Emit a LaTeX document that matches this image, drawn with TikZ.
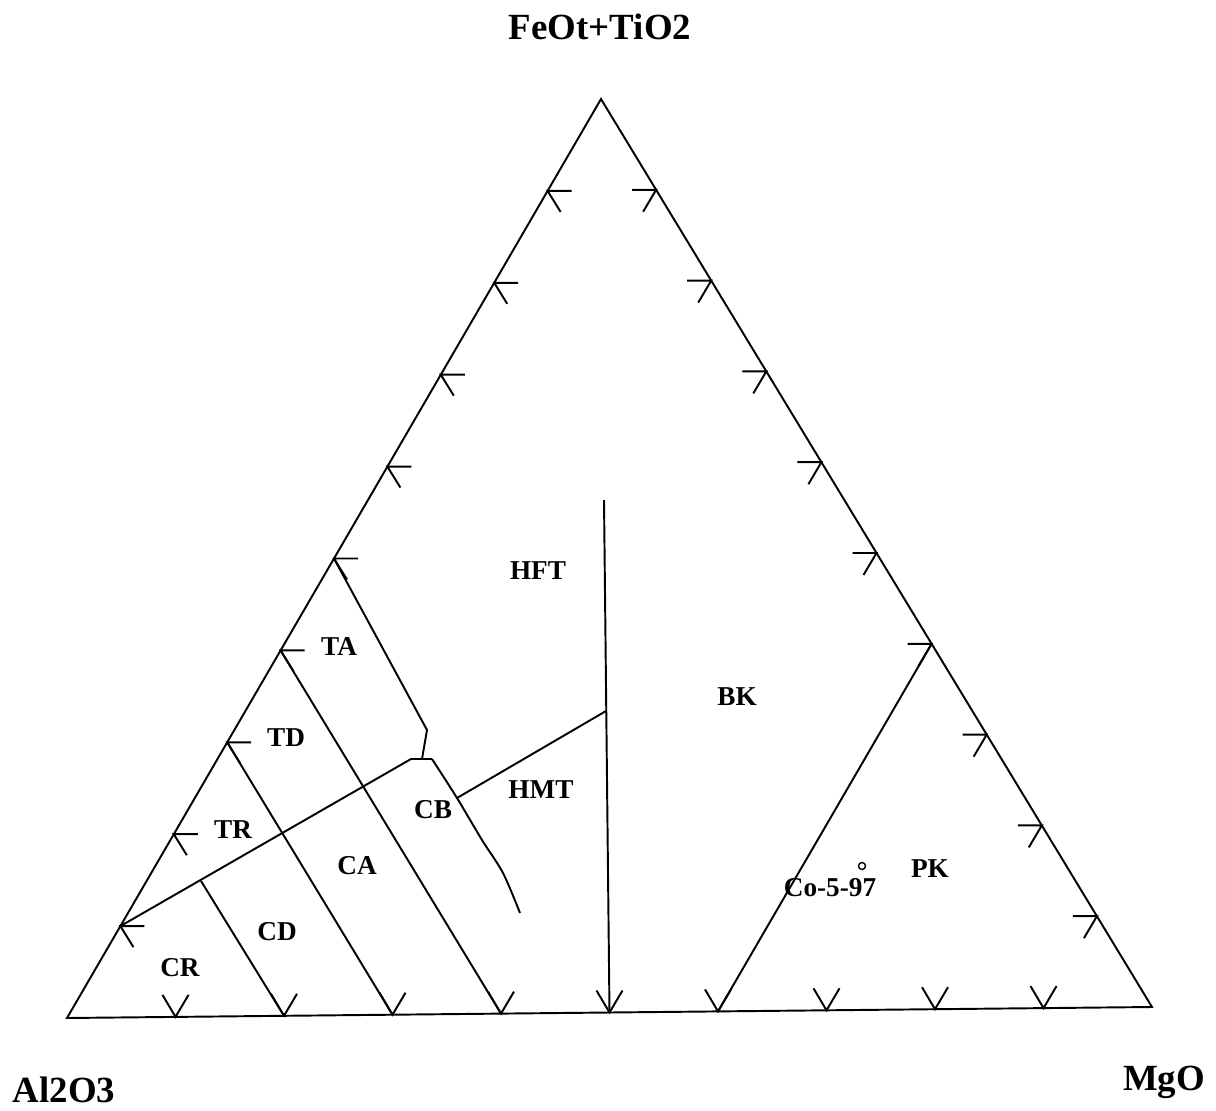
\documentclass[tikz,border=0pt]{standalone}
\usepackage{fontspec}
\setmainfont{Liberation Serif}

\begin{document}
\begin{tikzpicture}[x=0.02cm,y=-0.02cm,line width=1.1pt,
		field/.style={font=\fontsize{15.5}{15.5}\selectfont\bfseries},
		apex/.style={font=\fontsize{21}{21}\selectfont\bfseries,inner sep=1pt}]
		\useasboundingbox (0,0) rectangle (1216,1111);
%		\draw[help lines,step=100] (0,0) grid (1216,1111);
		\path (67,1018) coordinate (al);
		\path (601,99) coordinate (fe);
		\path (1152,1007) coordinate (mg);

		% ticks on the three sides
		\foreach \k [evaluate=\k as \lx using 67+53.4*\k,
			evaluate=\k as \ly using 1018-91.9*\k] in {1,...,9}{
			\path (\lx,\ly) coordinate (l\k);
			\draw (\lx+24,\ly) -- (l\k) -- (\lx+13,\ly+21);
		}
		\foreach \k [evaluate=\k as \rx using 601+55.1*\k,
			evaluate=\k as \ry using 99+90.8*\k] in {1,...,9}{
			\path (\rx,\ry) coordinate (r\k);
			\draw (\rx-24,\ry) -- (r\k) -- (\rx-13,\ry+22);
		}
		\foreach \k [evaluate=\k as \bx using 67+108.5*\k,
			evaluate=\k as \by using 1018-1.1*\k] in {1,...,9}{
			\path (\bx,\by) coordinate (b\k);
			\draw (\bx-13,\by-22) -- (b\k) -- (\bx+13,\by-22);
		}

		\path (201,881) coordinate (crcd);
		\path (411,759) coordinate (kink_l);
		\path (432,759) coordinate (kink_r);
		\path (422,759) coordinate (ta_foot);
		\path (427,730) coordinate (ta_bend);
		\path (457,798) coordinate (cb_hmt);
		\path (482,840) coordinate (cb_a);
		\path (503,873) coordinate (cb_b);
		\path (520,913) coordinate (cb_end);
		\path (606,711) coordinate (hmt_r);
		\path (604,500) coordinate (bk_top);

		\draw (al) -- (fe) -- (mg) -- cycle;

		% field boundaries
		\draw (l3) -- (b3);
		\draw (l4) -- (b4);
		\draw (crcd) -- (b2);
		\draw (l1) -- (kink_l) -- (kink_r);
		\draw (l5) -- (ta_bend) -- (ta_foot);
		\draw plot[smooth,tension=0.5] coordinates {(kink_r) (cb_hmt) (cb_a) (cb_b) (cb_end)};
		\draw (cb_hmt) -- (hmt_r);
		\draw (bk_top) -- (b5);
		\draw (r6) -- (b6);

		% sample
		\draw[line width=0.8pt] (862,866) circle (3.5);
		\node[field] (co597) at (830,888) {Co-5-97};

		\node[apex] (fe_lbl) at (600,27) {FeOt+TiO2};
		\node[apex] (al_lbl) at (64,1090) {Al2O3};
		\node[apex] (mg_lbl) at (1164,1082) {MgO};

		\node[field] (hft) at (538,571) {HFT};
		\node[field] (bk) at (737,697) {BK};
		\node[field] (pk) at (930,869) {PK};
		\node[field] (hmt) at (541,790) {HMT};
		\node[field] (cb) at (433,810) {CB};
		\node[field] (ta) at (339,647) {TA};
		\node[field] (td) at (286,738) {TD};
		\node[field] (tr) at (233,830) {TR};
		\node[field] (ca) at (357,866) {CA};
		\node[field] (cd) at (277,932) {CD};
		\node[field] (cr) at (180,968) {CR};
	\end{tikzpicture}
\end{document}
